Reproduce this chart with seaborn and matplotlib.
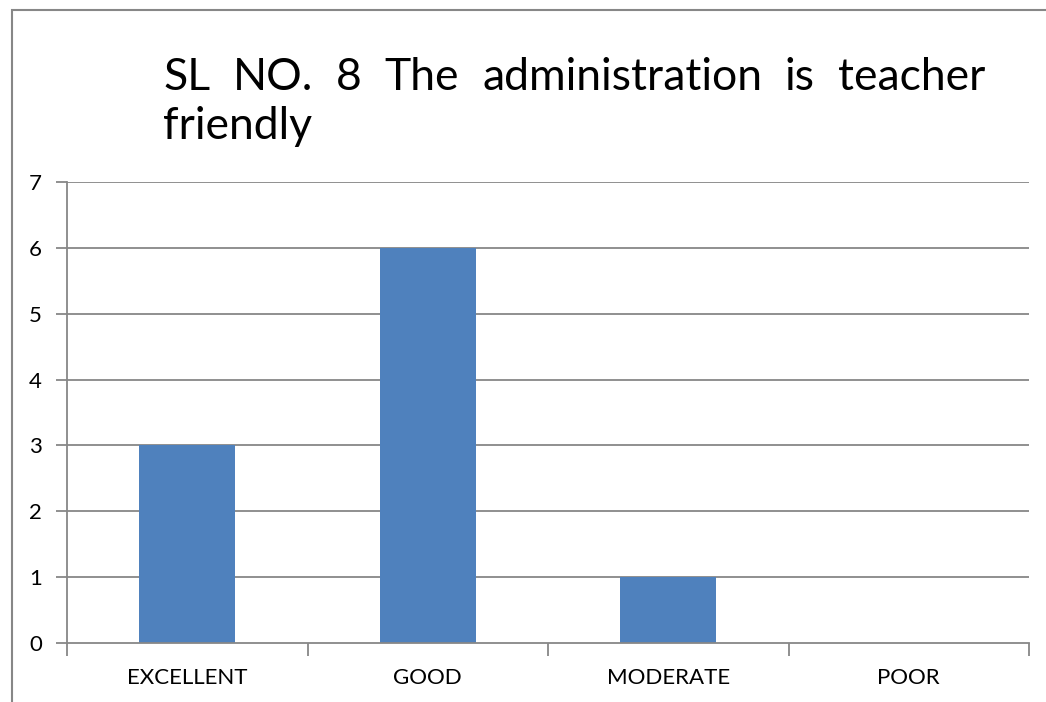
import matplotlib
matplotlib.use("Agg")
import matplotlib.pyplot as plt
from matplotlib.patches import Rectangle
import seaborn as sns
import pandas as pd

categories = ["EXCELLENT", "GOOD", "MODERATE", "POOR"]
counts = [3, 6, 1, 0]
title_words = ["SL", "NO.", "8", "The", "administration", "is", "teacher"]
title_second_line = "friendly"

sns.set_theme(style="white")
plt.rcParams["font.family"] = ["Lato", "DejaVu Sans"]
plt.rcParams["text.color"] = "black"

GRID = "#878787"
BAR = "#4F81BD"
W, H = 1046, 702

fig = plt.figure(figsize=(W / 100, H / 100), dpi=100)
fig.patch.set_facecolor("white")

# frame around the chart area (runs off the right and bottom edges)
fig.add_artist(Rectangle((12 / W, -0.05), 1.2, 1 - 10 / H + 0.05,
                         transform=fig.transFigure, fill=False,
                         edgecolor=GRID, lw=1.5))

ax = fig.add_axes([67 / W, 1 - 643 / H, (1029 - 67) / W, (643 - 182) / H])
df = pd.DataFrame({"category": categories, "count": counts})
sns.barplot(data=df, x="category", y="count", color=BAR, width=0.4,
            saturation=1, ax=ax, zorder=3, linewidth=0)

ax.set_ylim(0, 7)
ax.set_xlim(-0.5, len(categories) - 0.5)
ax.set_yticks(range(0, 8))
ax.set_xlabel("")
ax.set_ylabel("")

# horizontal grid
for v in range(1, 8):
    ax.axhline(v, color=GRID, lw=1.3, zorder=1)

for s in ["top", "right"]:
    ax.spines[s].set_visible(False)
for s in ["left", "bottom"]:
    ax.spines[s].set_color(GRID)
    ax.spines[s].set_linewidth(1.3)
    ax.spines[s].set_zorder(4)

# x ticks at category boundaries, labels at centres
n = len(categories)
ax.set_xticks([i - 0.5 for i in range(n + 1)])
ax.set_xticklabels([""] * (n + 1))
ax.set_xticks(range(n), minor=True)
ax.set_xticklabels(categories, minor=True, fontsize=16, color="black")
ax.tick_params(axis="x", which="major", direction="out", length=9,
               width=1.3, color=GRID, bottom=True)
ax.tick_params(axis="x", which="minor", length=0, pad=18, bottom=True)
ax.tick_params(axis="y", direction="out", length=8, width=1.3, color=GRID,
               labelsize=16, labelcolor="black", pad=10, left=True)

# justified two-line title
fig.canvas.draw()
renderer = fig.canvas.get_renderer()
fs = 32
x0, x1 = 163, 985
base1 = 1 - 90 / H
base2 = 1 - 139 / H
texts = [fig.text(0, base1, w, fontsize=fs, va="baseline", ha="left",
                  color="black")
         for w in title_words]
widths = [t.get_window_extent(renderer).width for t in texts]
gap = (x1 - x0 - sum(widths)) / (len(texts) - 1)
x = x0
for t, w in zip(texts, widths):
    t.set_x(x / W)
    x += w + gap
fig.text(x0 / W, base2, title_second_line, fontsize=fs, va="baseline",
         ha="left", color="black")

fig.savefig("out.png", dpi=100)
